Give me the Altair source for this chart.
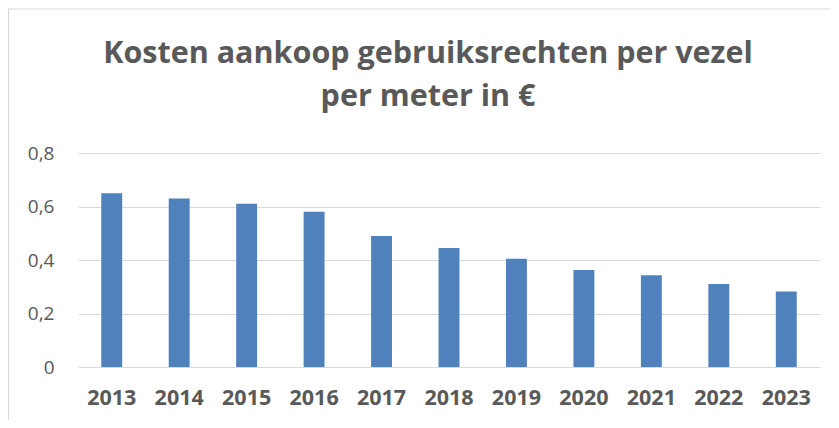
import altair as alt
import pandas as pd

years = ["2013", "2014", "2015", "2016", "2017", "2018", "2019", "2020", "2021", "2022", "2023"]
values = [0.65, 0.63, 0.61, 0.58, 0.49, 0.445, 0.405, 0.363, 0.343, 0.31, 0.282]
y_ticks = [0, 0.2, 0.4, 0.6, 0.8]
title_lines = ["Kosten aankoop gebruiksrechten per vezel", "per meter in €"]

df = pd.DataFrame({"jaar": years, "kosten": values})

GRAY = "#595959"
FONT = "Open Sans"

bars = alt.Chart(df).mark_bar(color="#4F81BD").encode(
    x=alt.X(
        "jaar:N",
        sort=years,
        scale=alt.Scale(paddingInner=0.69, paddingOuter=0.345),
        axis=alt.Axis(
            title=None, labelAngle=0, ticks=False, domain=False, grid=False,
            labelFont=FONT, labelFontSize=21.5, labelFontWeight="bold",
            labelColor=GRAY, labelPadding=20,
        ),
    ),
    y=alt.Y(
        "kosten:Q",
        scale=alt.Scale(domain=[0, 0.8], nice=False),
        axis=alt.Axis(
            title=None, values=y_ticks, ticks=False, domain=False,
            grid=True, gridColor="#d9d9d9", gridWidth=1.2,
            labelFont=FONT, labelFontSize=19, labelColor=GRAY, labelPadding=24,
            labelExpr="datum.value == 0 ? '0' : replace(format(datum.value, '.1f'), '.', ',')",
        ),
    ),
)

frame = pd.DataFrame({"k": [0]})
top_border = alt.Chart(frame).mark_rule(color="#d9d9d9", strokeWidth=1.2).encode(
    x=alt.value(-70), x2=alt.value(780), y=alt.value(-144)
)
left_border = alt.Chart(frame).mark_rule(color="#d9d9d9", strokeWidth=1.2).encode(
    x=alt.value(-69.5), y=alt.value(-144), y2=alt.value(300)
)

chart = alt.layer(bars, top_border, left_border).properties(
    width=742,
    height=214,
    title=alt.TitleParams(
        text=title_lines, font=FONT, fontSize=30.5, fontWeight="bold",
        color=GRAY, anchor="middle", dx=-21, lineHeight=42.5, offset=0, dy=104,
    ),
    padding={"left": 70, "top": 145, "right": 11, "bottom": 53},
    autosize=alt.AutoSizeParams(type="none"),
).configure(background="white").configure_view(stroke="transparent", strokeWidth=0)

chart.save("out.html", embed_options={"renderer": "svg", "actions": False})
